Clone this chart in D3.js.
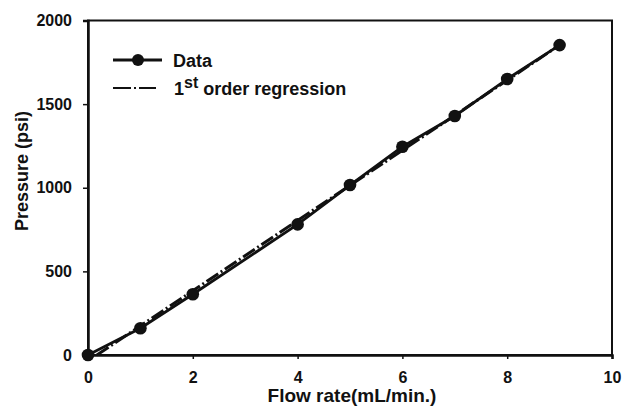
<!DOCTYPE html>
<html><head><meta charset="utf-8">
<script src="https://cdn.jsdelivr.net/npm/d3@7"></script>
<style>
body{margin:0;background:#fff;}
text{font-family:"Liberation Sans",Arial,Helvetica,sans-serif;fill:#111;}
</style></head>
<body><svg id="c" width="622" height="408"></svg>
<script>
const flowRate = [0, 1, 2, 4, 5, 6, 7, 8, 9];
const pressure = [0, 160, 363, 781, 1016, 1245, 1429, 1650, 1853];
const regX = [0.17, 9];
const regY = [0, 1853];
const xTicks = [0, 2, 4, 6, 8, 10];
const yTicks = [0, 500, 1000, 1500, 2000];
const legendLabels = ["Data", "order regression"];

const svg = d3.select("#c");
const m = {l: 88, r: 10, t: 20.5, b: 53};
const W = 622, H = 408;
const x = d3.scaleLinear().domain([0, 10]).range([m.l, W - m.r]);
const y = d3.scaleLinear().domain([0, 2000]).range([H - m.b, m.t]);

// frame top/right
svg.append("rect").attr("x", x(0)).attr("y", y(2000)).attr("width", x(10) - x(0)).attr("height", y(0) - y(2000))
  .attr("fill", "none").attr("stroke", "#111").attr("stroke-width", 2);

const xa = svg.append("g").attr("transform", `translate(0,${y(0)})`)
  .call(d3.axisBottom(x).tickValues(xTicks).tickSize(4).tickPadding(13).tickFormat(d3.format("d")));
const ya = svg.append("g").attr("transform", `translate(${x(0)},0)`)
  .call(d3.axisLeft(y).tickValues(yTicks).tickSize(5).tickPadding(11).tickFormat(d3.format("d")));
[xa, ya].forEach(a => {
  a.select(".domain").attr("stroke", "#111").attr("stroke-width", 2.5);
  a.selectAll(".tick line").attr("stroke", "#111").attr("stroke-width", 1.5);
  a.selectAll(".tick text").attr("font-size", 16).attr("font-weight", "bold").attr("fill", "#111")
    .style("font-family", '"Liberation Sans",Arial,sans-serif');
});

// regression
svg.append("path").datum(regX.map((d, i) => [d, regY[i]]))
  .attr("d", d3.line().x(d => x(d[0])).y(d => y(d[1])))
  .attr("fill", "none").attr("stroke", "#111").attr("stroke-width", 3)
  .attr("stroke-dasharray", "14,3,2,3");

// data
svg.append("path").datum(flowRate.map((d, i) => [d, pressure[i]]))
  .attr("d", d3.line().x(d => x(d[0])).y(d => y(d[1])))
  .attr("fill", "none").attr("stroke", "#111").attr("stroke-width", 2.8);
svg.selectAll("circle.pt").data(flowRate).join("circle").attr("class", "pt")
  .attr("cx", d => x(d)).attr("cy", (d, i) => y(pressure[i])).attr("r", 6.3).attr("fill", "#111");

// axis titles
svg.append("text").attr("x", (x(0) + x(10)) / 2 + 2).attr("y", 402).attr("text-anchor", "middle")
  .attr("font-size", 19).attr("font-weight", "bold").text("Flow rate(mL/min.)");
svg.append("text").attr("transform", "translate(28,171) rotate(-90)").attr("text-anchor", "middle")
  .attr("font-size", 18).attr("font-weight", "bold").text("Pressure (psi)");

// legend
const lg = svg.append("g");
lg.append("line").attr("x1", 113).attr("x2", 162).attr("y1", 60).attr("y2", 60).attr("stroke", "#111").attr("stroke-width", 2.8);
lg.append("circle").attr("cx", 138).attr("cy", 60).attr("r", 6).attr("fill", "#111");
lg.append("text").attr("x", 173).attr("y", 66.5).attr("font-size", 18).attr("font-weight", "bold").text(legendLabels[0]);
lg.append("line").attr("x1", 113).attr("x2", 156).attr("y1", 88).attr("y2", 88).attr("stroke", "#111").attr("stroke-width", 2.2)
  .attr("stroke-dasharray", "18,3,2,3");
const t2 = lg.append("text").attr("x", 174).attr("y", 95).attr("font-size", 18).attr("font-weight", "bold");
t2.append("tspan").text("1");
t2.append("tspan").attr("dy", -7).attr("font-size", 16).text("st");
t2.append("tspan").attr("dy", 7).attr("dx", 5).text(legendLabels[1]);
</script></body></html>
